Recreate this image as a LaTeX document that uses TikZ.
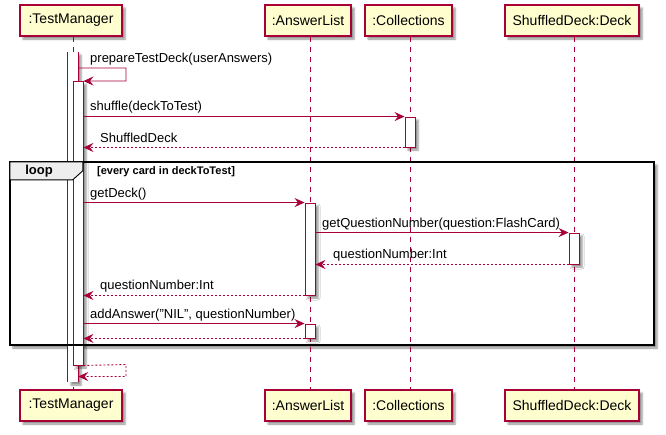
\documentclass[tikz,border=0pt]{standalone}
\usepackage{fontspec}
\setmainfont{Liberation Sans}
\usetikzlibrary{arrows.meta,shadows.blur}
\definecolor{umlred}{HTML}{A80036}
\definecolor{umlfill}{HTML}{FEFECE}
\definecolor{tabfill}{HTML}{EEEEEE}
\begin{document}
\begin{tikzpicture}[x=1pt,y=-1pt,
  shade/.style={blur shadow={shadow xshift=3pt,shadow yshift=-3pt,shadow opacity=45,shadow blur radius=2pt}},
  participant/.style={draw=umlred,line width=1.1pt,fill=umlfill,shade,inner sep=0pt,
    minimum height=31pt,font=\fontsize{14}{16}\selectfont},
  lifeline/.style={draw=umlred,line width=0.9pt,dash pattern=on 5pt off 5pt},
  act/.style={draw=umlred,line width=0.9pt,fill=white,shade,minimum width=10pt,inner sep=0pt},
  actfill/.style={fill=white,shade,minimum width=10pt,inner sep=0pt},
  actline/.style={draw=umlred,line width=0.9pt},
  msg/.style={draw=umlred,line width=0.9pt,-{Stealth[length=10pt,width=9pt,inset=3.5pt]}},
  ret/.style={msg,dash pattern=on 2pt off 2pt},
  lbl/.style={anchor=west,inner sep=0pt,font=\fontsize{13}{15}\selectfont},
  framebg/.style={fill=white,shade,inner sep=0pt},
  frameline/.style={draw=black,line width=1.5pt},
  tab/.style={draw=black,line width=0.9pt,fill=tabfill}]

\useasboundingbox (0,0) rectangle (666,434);

% loop fragment background with its shadow
\node[framebg,minimum width=644pt,minimum height=183pt] (loopF) at (332,253.5) {};

% participants, top and bottom
\node[participant,minimum width=102pt] (tmTop) at (71,20.5) {:TestManager};
\node[participant,minimum width=86pt]  (alTop) at (308,20.5) {:AnswerList};
\node[participant,minimum width=87pt]  (coTop) at (408.5,20.5) {:Collections};
\node[participant,minimum width=134pt] (sdTop) at (572,20.5) {ShuffledDeck:Deck};
\node[participant,minimum width=102pt] (tmBot) at (71,405.5) {:TestManager};
\node[participant,minimum width=86pt]  (alBot) at (308,405.5) {:AnswerList};
\node[participant,minimum width=87pt]  (coBot) at (408.5,405.5) {:Collections};
\node[participant,minimum width=134pt] (sdBot) at (572,405.5) {ShuffledDeck:Deck};

% lifelines
\foreach \p in {tm,al,co,sd}
  \draw[lifeline] ([xshift=2pt]\p Top.south) -- ([xshift=2pt]\p Bot.north);

% activations
\node[actfill,minimum height=330pt] (tmA1) at (73,217) {};
\draw[actline] (tmA1.north west) -- (tmA1.south west);
\draw[actline] (tmA1.north east) -- (tmA1.south east);
\node[act,minimum height=283.5pt] (tmA2) at (78,223.25) {};
\node[act,minimum height=30pt] (coA) at (410,132) {};
\node[act,minimum height=92pt] (alA1) at (310,249) {};
\node[act,minimum height=31pt] (sdA) at (574,248.5) {};
\node[act,minimum height=14pt] (alA2) at (310,331) {};

% loop fragment border, tab and guard
\draw[frameline] (loopF.north west) rectangle (loopF.south east);
\draw[tab] (loopF.north west) -- ++(73,0) -- ++(0,9) -- ++(-10,9) -- ++(-63,0) -- cycle;
\node[font=\fontsize{13}{15}\selectfont\bfseries,inner sep=0pt] (loopL) at (39,171.5) {loop};
\node[lbl,font=\fontsize{11}{13}\selectfont\bfseries] (guard) at (97,172) {[every card in deckToTest]};

% messages
\coordinate (selfTop) at (126,68);
\coordinate (selfBot) at (126,81);
\draw[msg] (tmA1.east |- selfTop) -- (selfTop) -- (selfBot) -- (tmA2.north east);
\node[lbl] (l1) at (90,59.5) {prepareTestDeck(userAnswers)};

\draw[msg] (tmA2.east |- coA.north) -- (coA.north west);
\node[lbl] (l2) at (90,107.5) {shuffle(deckToTest)};

\draw[ret] (coA.south west) -- (tmA2.east |- coA.south);
\node[lbl] (l3) at (100,138) {ShuffledDeck};

\draw[msg] (tmA2.east |- alA1.north) -- (alA1.north west);
\node[lbl] (l4) at (90,194) {getDeck()};

\draw[msg] (alA1.east |- sdA.north) -- (sdA.north west);
\node[lbl] (l5) at (322,224.5) {getQuestionNumber(question:FlashCard)};

\draw[ret] (sdA.south west) -- (alA1.east |- sdA.south);
\node[lbl] (l6) at (333,255) {questionNumber:Int};

\draw[ret] (alA1.south west) -- (tmA2.east |- alA1.south);
\node[lbl] (l7) at (100,286) {questionNumber:Int};

\draw[msg] (tmA2.east |- alA2.north) -- (alA2.north west);
\node[lbl] (l8) at (90,315) {addAnswer("NIL", questionNumber)};

\draw[ret] (alA2.south west) -- (tmA2.east |- alA2.south);

\coordinate (endTop) at (126,364.5);
\coordinate (endBot) at (126,376.5);
\draw[ret] (tmA2.south east) -- (endTop) -- (endBot) -- (tmA1.east |- endBot);
\end{tikzpicture}
\end{document}
